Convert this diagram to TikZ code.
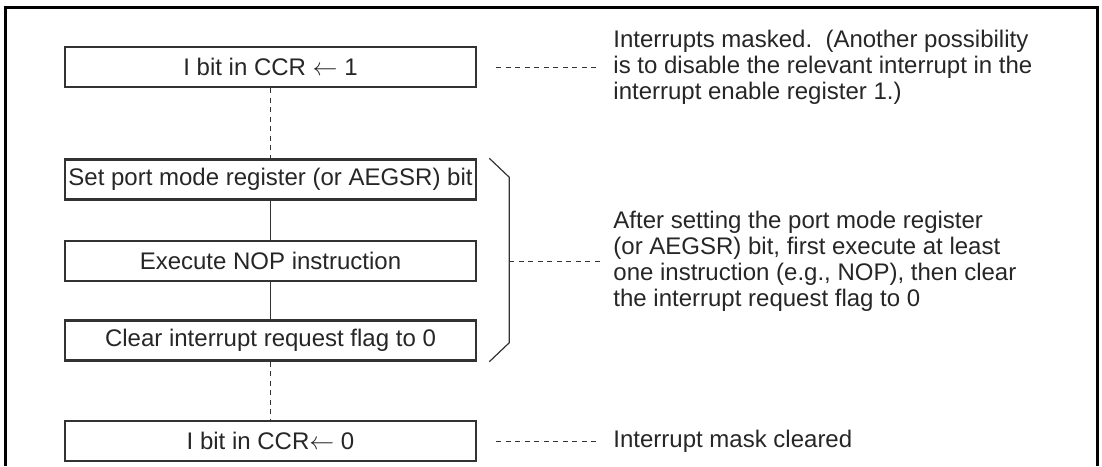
\documentclass[tikz,border=0pt]{standalone}
\usepackage{fontspec}
\setmainfont{Liberation Sans}
\usetikzlibrary{positioning}
\tikzstyle{boite}=[rectangle,draw=black!80,line width=2.5pt,minimum width=411pt,minimum height=40pt,inner sep=0pt,text=black!85,font=\fontsize{24}{26}\selectfont]
\tikzstyle{note}=[inner sep=0pt,align=left,text=black!85,font=\fontsize{24}{26}\selectfont]
\tikzstyle{pointille}=[draw=black!80,line width=1pt,dash pattern=on 5pt off 4.5pt]
\tikzstyle{trait}=[draw=black!80,line width=1.2pt]
\newcommand{\fleche}{\ensuremath{\leftarrow}}

\begin{document}
\begin{tikzpicture}[x=1pt,y=1pt]
\useasboundingbox (0,0) rectangle (1102,-466);
\draw[line width=3pt] (5,-466)--(5,-7)--(1097,-7)--(1097,-466);

\node[boite] (I10) at (270.5,-67) {I bit in CCR \fleche\ 1};
\node[boite] (S20) [below =70pt of I10] {Set port mode register (or AEGSR) bit};
\node[boite] (E30) [below =39pt of S20] {Execute NOP instruction};
\node[boite] (C40) [below =37pt of E30] {Clear interrupt request flag to 0};
\node[boite] (I50) [below =58pt of C40] {I bit in CCR\fleche\ 0};

\node[note] (T10) [right =136pt of I10] {Interrupts masked.\ \ (Another possibility\\is to disable the relevant interrupt in the\\interrupt enable register 1.)};
\node[note] (T30) [right =136pt of E30] {After setting the port mode register\\(or AEGSR) bit, first execute at least\\one instruction (e.g., NOP), then clear\\the interrupt request flag to 0};
\node[note] (T50) [right =136pt of I50] {Interrupt mask cleared};

\draw[pointille] (I10.south) to (S20.north);
\draw[trait] (S20.south) to (E30.north);
\draw[trait] (E30.south) to (C40.north);
\draw[pointille] (C40.south) to (I50.north);

\draw[pointille] ([xshift=19pt]I10.east) to ([xshift=-14pt]T10.west);
\draw[pointille] ([xshift=19pt]I50.east) to ([xshift=-14pt]T50.west);
\draw[trait] ([xshift=12pt]S20.north east)--([xshift=32pt,yshift=-19pt]S20.north east)
  --([xshift=32pt,yshift=19pt]C40.south east)--([xshift=12pt]C40.south east);
\draw[pointille] ([xshift=32pt]E30.east) to ([xshift=-12pt]T30.west);

\end{tikzpicture}
\end{document}
